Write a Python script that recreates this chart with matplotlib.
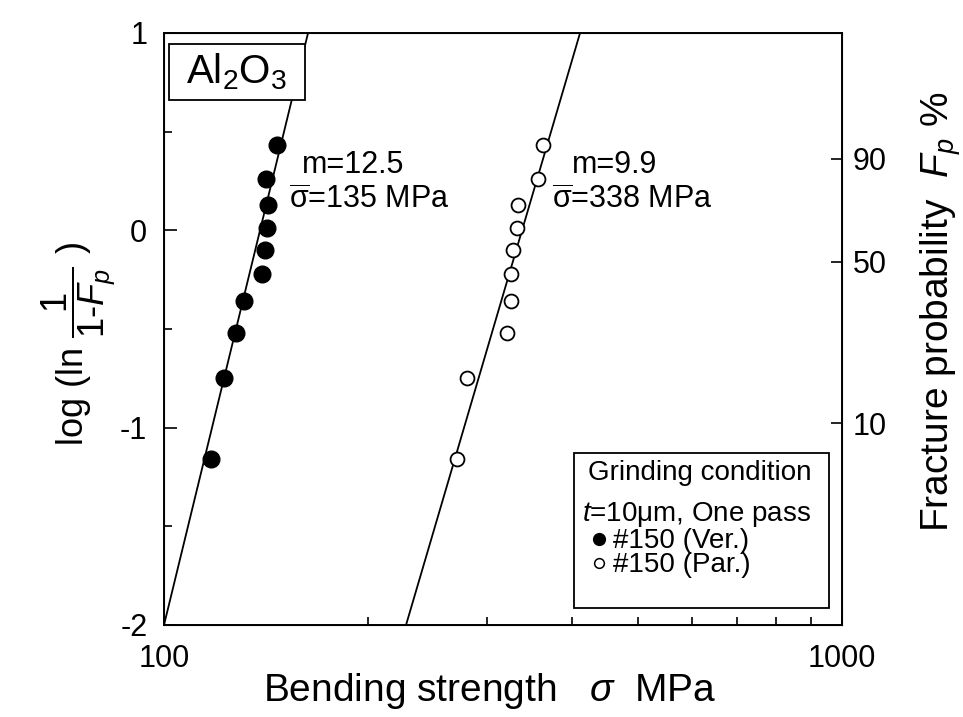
import numpy as np
import matplotlib
matplotlib.use("Agg")
import matplotlib.pyplot as plt
from matplotlib.patches import Rectangle
from matplotlib.ticker import NullLocator

plt.rcParams['font.family'] = ['Liberation Sans', 'DejaVu Sans']
plt.rcParams['mathtext.fontset'] = 'custom'
plt.rcParams['mathtext.rm'] = 'Liberation Sans'
plt.rcParams['mathtext.it'] = 'Liberation Sans:italic'
plt.rcParams['mathtext.bf'] = 'Liberation Sans:bold'

# Weibull plot data
# y = log(ln(1/(1-Fp)))
y_rank = [-1.157, -0.748, -0.522, -0.357, -0.221, -0.100, 0.014, 0.130, 0.258, 0.431]
# #150 (Ver.)  filled circles, MPa
s_ver = [117.3, 122.7, 127.5, 131.3, 139.4, 140.9, 142.0, 142.5, 141.4, 146.6]
# #150 (Par.)  open circles, MPa
s_par = [270.2, 279.6, 320.2, 324.6, 324.6, 326.8, 331.9, 333.1, 355.8, 362.5]

# fitted lines (end points)
fit_ver_x = [100, 163.1]
fit_ver_y = [-2, 1]
fit_par_x = [227.5, 410.8]
fit_par_y = [-2, 1]

fp_ticks = [90, 50, 10]  # fracture probability %

fig = plt.figure(figsize=(9.63, 7.17), dpi=100)
ax = fig.add_axes([164/963, 92/717, 678/963, 592/717])

ax.plot(fit_ver_x, fit_ver_y, color='black', lw=1.3)
ax.plot(fit_par_x, fit_par_y, color='black', lw=1.3)
ax.plot(s_ver, y_rank, 'o', color='black', ms=12, zorder=3)
ax.plot(s_par, y_rank, 'o', mfc='white', mec='black', mew=1.3, ms=10, zorder=3)

ax.set_xscale('log')
ax.set_xlim(100, 1000)
ax.set_ylim(-2, 1)
ax.set_xticks([100, 1000])
ax.set_xticklabels(['100', '1000'])
ax.set_yticks([-2, -1, 0, 1])
ax.set_yticklabels(['-2', '-1', '0', '1'])
ax.set_yticks([-1.5, -0.5, 0.5], minor=True)
ax.tick_params(which='both', direction='in', top=False, right=False, labelsize=22, width=1.2)
ax.tick_params(which='major', length=9)
ax.tick_params(which='minor', length=6)
ax.tick_params(axis='x', which='major', pad=14)
ax.tick_params(axis='y', which='major', pad=12)
ax.tick_params(axis='x', which='minor', labelbottom=False)
for sp in ax.spines.values():
    sp.set_linewidth(1.4)

ax.set_xlabel(r'Bending strength   $\sigma$  MPa', fontsize=28)
ax.xaxis.set_label_coords(0.48, -0.078)
ax.set_ylabel(r'log (ln $\dfrac{1}{1\text{-}F_p}$ )', fontsize=26)
ax.yaxis.set_label_coords(-0.07, 0.475)

# right axis: fracture probability
ax2 = ax.twinx()
ax2.set_ylim(ax.get_ylim())
fp = np.array(fp_ticks) / 100.0
ax2.set_yticks(np.log10(-np.log(1 - fp)))
ax2.set_yticklabels([str(v) for v in fp_ticks])
ax2.yaxis.set_minor_locator(NullLocator())
ax2.tick_params(axis='y', direction='in', length=8, width=1.2, labelsize=22, pad=8)
ax2.set_ylabel(r'Fracture probability  $F_p$ %', fontsize=28)
ax2.yaxis.set_label_coords(1.112, 0.529)

# annotations
ax.add_patch(Rectangle((0.0074, 0.887), 0.2006, 0.0946, transform=ax.transAxes,
                       fc='white', ec='black', lw=1.3, zorder=4))
ax.text(0.1077, 0.934, r'Al$_2$O$_3$', transform=ax.transAxes, fontsize=29,
        ha='center', va='center', zorder=5)
ax.text(0.204, 0.777, 'm=12.5', transform=ax.transAxes, fontsize=22, va='center')
ax.text(0.185, 0.716, r'$\overline{\mathrm{\sigma}}$=135 MPa', transform=ax.transAxes, fontsize=22, va='center')
ax.text(0.601, 0.777, 'm=9.9', transform=ax.transAxes, fontsize=22, va='center')
ax.text(0.572, 0.716, r'$\overline{\mathrm{\sigma}}$=338 MPa', transform=ax.transAxes, fontsize=22, va='center')

# legend box
ax.add_patch(Rectangle((0.605, 0.029), 0.376, 0.262, transform=ax.transAxes,
                       fc='white', ec='black', lw=1.3, zorder=4))
ax.text(0.625, 0.257, 'Grinding condition', transform=ax.transAxes, fontsize=20, va='center', zorder=5)
ax.text(0.617, 0.145,
        '$t$=10$\\mathrm{\\mu}$m, One pass\n    #150 (Ver.)\n    #150 (Par.)',
        transform=ax.transAxes, fontsize=20, va='center', linespacing=0.93, zorder=5)
ax.plot([0.641], [0.145], 'o', color='black', ms=8.5, transform=ax.transAxes, zorder=5, clip_on=False)
ax.plot([0.641], [0.105], 'o', mfc='white', mec='black', mew=1.1, ms=7, transform=ax.transAxes, zorder=5, clip_on=False)

fig.savefig('out.png', dpi=100)
